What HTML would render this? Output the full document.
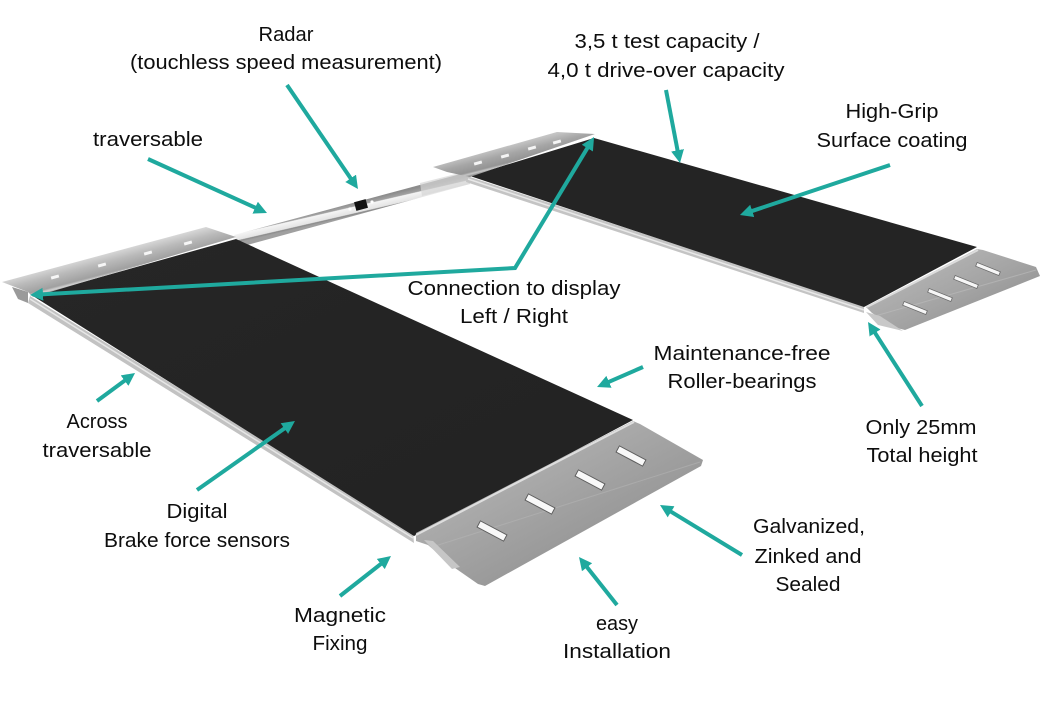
<!DOCTYPE html>
<html>
<head>
<meta charset="utf-8">
<style>
  html,body{margin:0;padding:0;background:#fff;}
  svg{display:block;}
  text{font-family:"Liberation Sans",Arial,sans-serif;font-size:20px;fill:#0d0d0d;}
</style>
</head>
<body>
<svg width="1040" height="720" viewBox="0 0 1040 720" xmlns="http://www.w3.org/2000/svg">
  <defs>
    <marker id="ah" markerWidth="14" markerHeight="14" refX="4" refY="6.5" orient="auto-start-reverse" markerUnits="userSpaceOnUse">
      <path d="M0,0 L13,6.5 L0,13 z" fill="#1fa99e"/>
    </marker>
    <linearGradient id="stripL" gradientUnits="userSpaceOnUse" x1="120" y1="250" x2="126" y2="273">
      <stop offset="0" stop-color="#d6d6d6"/>
      <stop offset="0.35" stop-color="#bababa"/>
      <stop offset="0.8" stop-color="#a0a0a0"/>
      <stop offset="0.9" stop-color="#d2d2d2"/>
      <stop offset="1" stop-color="#969696"/>
    </linearGradient>
    <linearGradient id="stripR" gradientUnits="userSpaceOnUse" x1="510" y1="145" x2="515" y2="165">
      <stop offset="0" stop-color="#c4c4c4"/>
      <stop offset="0.4" stop-color="#a6a6a6"/>
      <stop offset="0.8" stop-color="#949494"/>
      <stop offset="0.9" stop-color="#c8c8c8"/>
      <stop offset="1" stop-color="#8a8a8a"/>
    </linearGradient>
    <linearGradient id="bar" gradientUnits="userSpaceOnUse" x1="350" y1="203" x2="353" y2="216">
      <stop offset="0" stop-color="#8c8c8c"/>
      <stop offset="0.3" stop-color="#a2a2a2"/>
      <stop offset="0.36" stop-color="#f4f4f4"/>
      <stop offset="0.8" stop-color="#e4e4e4"/>
      <stop offset="0.86" stop-color="#8a8a8a"/>
      <stop offset="1" stop-color="#a0a0a0"/>
    </linearGradient>
    <linearGradient id="rampL" gradientUnits="userSpaceOnUse" x1="520" y1="470" x2="560" y2="545">
      <stop offset="0" stop-color="#acacac"/>
      <stop offset="0.55" stop-color="#a2a2a2"/>
      <stop offset="1" stop-color="#9a9a9a"/>
    </linearGradient>
    <linearGradient id="rampR" gradientUnits="userSpaceOnUse" x1="930" y1="270" x2="955" y2="320">
      <stop offset="0" stop-color="#b0b0b0"/>
      <stop offset="0.6" stop-color="#a4a4a4"/>
      <stop offset="1" stop-color="#9a9a9a"/>
    </linearGradient>
    <linearGradient id="blackL" x1="0" y1="0" x2="1" y2="1">
      <stop offset="0" stop-color="#262626"/>
      <stop offset="1" stop-color="#222222"/>
    </linearGradient>
  </defs>

  <!-- ===== Cross bar with radar ===== -->
  <polygon points="234,235 468,172 470,184 240,247" fill="url(#bar)"/>
  <polygon points="420,183 468,171 470,184 422,196" fill="#d6d6d6" opacity="0.7"/>
  <rect x="-6" y="-4.5" width="12" height="9" transform="translate(361,205) rotate(-15)" fill="#111"/>
  <circle cx="350" cy="209" r="1.6" fill="#fff"/>
  <circle cx="372" cy="202" r="1.6" fill="#fff"/>

  <!-- ===== Right plate ===== -->
  <polygon points="467,176 864,306 864,313 466,182" fill="#c4c4c4"/>
  <line x1="468" y1="179" x2="864" y2="310" stroke="#e8e8e8" stroke-width="1.5"/>
  <polygon points="470,176 594,138 977,247 864,307" fill="#242424"/>
  <polygon points="433,167 557,132 595,134 470,177 447,172" fill="url(#stripR)"/>
  <g fill="#f4f4f4">
    <rect x="-4" y="-1.5" width="8" height="3" transform="translate(478,163) rotate(-15)"/>
    <rect x="-4" y="-1.5" width="8" height="3" transform="translate(505,156) rotate(-15)"/>
    <rect x="-4" y="-1.5" width="8" height="3" transform="translate(532,148) rotate(-15)"/>
    <rect x="-4" y="-1.5" width="8" height="3" transform="translate(557,142) rotate(-15)"/>
  </g>
  <!-- right ramp -->
  <polygon points="866,307 977,249 983,250 1036,267 1040,276 905,330 897,328 880,318 872,313" fill="url(#rampR)"/>
  <line x1="867" y1="307" x2="978" y2="250" stroke="#dcdcdc" stroke-width="2"/>
  <line x1="875" y1="316" x2="1036" y2="270" stroke="#bdbdbd" stroke-width="1" opacity="0.6"/>
  <polygon points="866,312 880,316 903,331 878,325" fill="#c8c8c8"/>
  <g fill="#f6f6f6" stroke="#6a6a6a" stroke-width="0.8">
    <rect x="-12.5" y="-2" width="25" height="4" transform="translate(915,308) rotate(22)"/>
    <rect x="-12.5" y="-2" width="25" height="4" transform="translate(940,295) rotate(22)"/>
    <rect x="-12.5" y="-2" width="25" height="4" transform="translate(966,282) rotate(22)"/>
    <rect x="-12.5" y="-2" width="25" height="4" transform="translate(988,269) rotate(22)"/>
  </g>

  <!-- ===== Left plate ===== -->
  <polygon points="30,296 413,533 414,543 28,303" fill="#c2c2c2"/>
  <line x1="30" y1="299" x2="413" y2="538" stroke="#e6e6e6" stroke-width="1.5"/>
  <polygon points="33,296 236,239 633,420 414,536" fill="url(#blackL)"/>
  <polygon points="2,282 206,227 236,237 33,297 28,292" fill="url(#stripL)"/>
  <polygon points="12,287 28,292 28,303 18,299" fill="#9a9a9a"/>
  <g fill="#f6f6f6">
    <rect x="-4" y="-1.5" width="8" height="3" transform="translate(55,277) rotate(-15)"/>
    <rect x="-4" y="-1.5" width="8" height="3" transform="translate(102,265) rotate(-15)"/>
    <rect x="-4" y="-1.5" width="8" height="3" transform="translate(148,253) rotate(-15)"/>
    <rect x="-4" y="-1.5" width="8" height="3" transform="translate(188,243) rotate(-15)"/>
  </g>
  <!-- left ramp -->
  <polygon points="416,533 633,421 640,424 703,460 701,466 485,586 478,584 455,568 428,545 416,541" fill="url(#rampL)"/>
  <line x1="416" y1="535" x2="634" y2="422" stroke="#dedede" stroke-width="2"/>
  <line x1="432" y1="547" x2="700" y2="462" stroke="#b8b8b8" stroke-width="1" opacity="0.5"/>
  <polygon points="424,540 433,541 460,567 452,569" fill="#c6c6c6"/>
  <g fill="#f8f8f8" stroke="#5e5e5e" stroke-width="1">
    <rect x="-15" y="-3.5" width="30" height="7" transform="translate(492,531) rotate(28)"/>
    <rect x="-15" y="-3.5" width="30" height="7" transform="translate(540,504) rotate(28)"/>
    <rect x="-15" y="-3.5" width="30" height="7" transform="translate(590,480) rotate(28)"/>
    <rect x="-15" y="-3.5" width="30" height="7" transform="translate(631,456) rotate(28)"/>
  </g>

  <!-- ===== Arrows ===== -->
  <g stroke="#1fa99e" stroke-width="4" fill="none" marker-end="url(#ah)">
    <line x1="287" y1="85" x2="352.9" y2="181.6"/>
    <line x1="148" y1="159" x2="258.8" y2="209.3"/>
    <line x1="666" y1="90" x2="678.3" y2="154.2"/>
    <line x1="890" y1="165" x2="748.5" y2="212.2"/>
    <line x1="643" y1="367" x2="605.3" y2="383.4"/>
    <line x1="922" y1="406" x2="872.9" y2="329.6"/>
    <line x1="97" y1="401" x2="127.8" y2="378.3"/>
    <line x1="197" y1="490" x2="287.6" y2="426.2"/>
    <line x1="340" y1="596" x2="383.9" y2="561.6"/>
    <line x1="617" y1="605" x2="584.6" y2="564.1"/>
    <line x1="742" y1="555" x2="667.7" y2="509.7"/>
  </g>
  <path d="M39,294.5 L515,268 L589.4,144.7" stroke="#1fa99e" stroke-width="4" fill="none" stroke-linejoin="miter" marker-start="url(#ah)" marker-end="url(#ah)"/>

  <!-- ===== Labels ===== -->
  <g text-anchor="middle">
    <text x="286" y="41" textLength="55" lengthAdjust="spacingAndGlyphs">Radar</text>
    <text x="286" y="69" textLength="312" lengthAdjust="spacingAndGlyphs">(touchless speed measurement)</text>

    <text x="667" y="48" textLength="185" lengthAdjust="spacingAndGlyphs">3,5 t test capacity /</text>
    <text x="666" y="77" textLength="237" lengthAdjust="spacingAndGlyphs">4,0 t drive-over capacity</text>

    <text x="148" y="146" textLength="110" lengthAdjust="spacingAndGlyphs">traversable</text>

    <text x="892" y="118" textLength="93" lengthAdjust="spacingAndGlyphs">High-Grip</text>
    <text x="892" y="147" textLength="151" lengthAdjust="spacingAndGlyphs">Surface coating</text>

    <text x="514" y="295" textLength="213" lengthAdjust="spacingAndGlyphs">Connection to display</text>
    <text x="514" y="323" textLength="108" lengthAdjust="spacingAndGlyphs">Left / Right</text>

    <text x="742" y="360" textLength="177" lengthAdjust="spacingAndGlyphs">Maintenance-free</text>
    <text x="742" y="388" textLength="149" lengthAdjust="spacingAndGlyphs">Roller-bearings</text>

    <text x="921" y="434" textLength="111" lengthAdjust="spacingAndGlyphs">Only 25mm</text>
    <text x="922" y="462" textLength="111" lengthAdjust="spacingAndGlyphs">Total height</text>

    <text x="97" y="428" textLength="61" lengthAdjust="spacingAndGlyphs">Across</text>
    <text x="97" y="457" textLength="109" lengthAdjust="spacingAndGlyphs">traversable</text>

    <text x="197" y="518" textLength="61" lengthAdjust="spacingAndGlyphs">Digital</text>
    <text x="197" y="547" textLength="186" lengthAdjust="spacingAndGlyphs">Brake force sensors</text>

    <text x="340" y="622" textLength="92" lengthAdjust="spacingAndGlyphs">Magnetic</text>
    <text x="340" y="650" textLength="55" lengthAdjust="spacingAndGlyphs">Fixing</text>

    <text x="617" y="630" textLength="42" lengthAdjust="spacingAndGlyphs">easy</text>
    <text x="617" y="658" textLength="108" lengthAdjust="spacingAndGlyphs">Installation</text>

    <text x="809" y="533" textLength="112" lengthAdjust="spacingAndGlyphs">Galvanized,</text>
    <text x="808" y="563" textLength="107" lengthAdjust="spacingAndGlyphs">Zinked and</text>
    <text x="808" y="591" textLength="65" lengthAdjust="spacingAndGlyphs">Sealed</text>
  </g>
</svg>
</body>
</html>
